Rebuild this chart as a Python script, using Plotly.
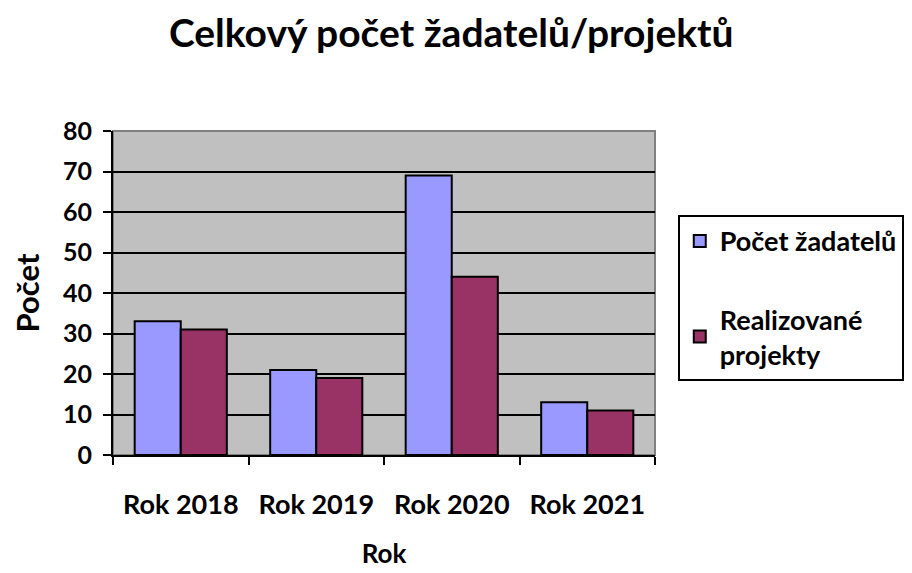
import plotly.graph_objects as go

categories = ["Rok 2018", "Rok 2019", "Rok 2020", "Rok 2021"]
zadatele = [33, 21, 69, 13]
realizovane = [31, 19, 44, 11]
y_ticks = [0, 10, 20, 30, 40, 50, 60, 70, 80]

FONT = "Lato"

fig = go.Figure()
fig.add_trace(go.Bar(
    x=categories, y=zadatele, name="Počet žadatelů", legendgroup="a",
    marker=dict(color="#9999FF", line=dict(color="black", width=2)),
))
fig.add_trace(go.Bar(
    x=categories, y=realizovane, name="Realizované<br>projekty", legendgroup="b",
    marker=dict(color="#993366", line=dict(color="black", width=2)),
))

fig.update_layout(
    width=912, height=573,
    margin=dict(l=105, r=265, t=123, b=126),
    paper_bgcolor="white", plot_bgcolor="#C0C0C0",
    barmode="group", bargap=0.32, bargroupgap=0,
    font=dict(family=FONT, color="black"),
    title=dict(text="Celkový počet žadatelů/projektů", xref="container", x=0.486,
               xanchor="center", y=0.956, yanchor="middle",
               font=dict(size=39, family=FONT, color="black", weight="bold")),
    legend=dict(x=1.042, xanchor="left", y=0.741, yanchor="top",
                bordercolor="black", borderwidth=2, bgcolor="white",
                font=dict(size=27, family=FONT, color="black", weight="bold"),
                traceorder="grouped", tracegroupgap=40, itemwidth=30),
    showlegend=True,
)
fig.update_xaxes(
    automargin=False,
    showline=True, linecolor="black", linewidth=2,
    ticks="outside", ticklen=8, tickwidth=2, tickcolor="black",
    tickson="boundaries", ticklabelstandoff=25,
    tickfont=dict(size=27, family=FONT, color="black", weight="bold"),
    title=dict(text="Rok", font=dict(size=26, family=FONT, color="black", weight="bold"), standoff=25),
)
fig.update_yaxes(
    automargin=False,
    range=[0, 80], tickvals=y_ticks,
    showline=True, linecolor="black", linewidth=2,
    ticks="outside", ticklen=8, tickwidth=2, tickcolor="black",
    ticklabelstandoff=6,
    showgrid=True, gridcolor="black", gridwidth=2,
    zeroline=False,
    tickfont=dict(size=25, family=FONT, color="black", weight="bold"),
    title=dict(text="Počet", font=dict(size=31, family=FONT, color="black", weight="bold"), standoff=24),
)
fig.add_shape(type="rect", xref="paper", yref="paper", x0=0, x1=1, y0=0, y1=1,
              line=dict(color="#808080", width=2), layer="below")

fig.write_html("out.html")
